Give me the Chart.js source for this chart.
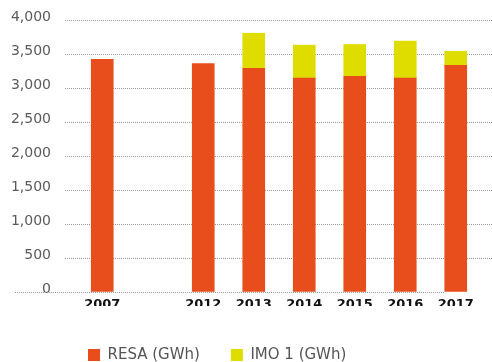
<!DOCTYPE html>
<html>
<head>
<meta charset="utf-8">
<script src="https://cdn.jsdelivr.net/npm/chart.js@4/dist/chart.umd.min.js"></script>
<style>
  html, body { margin: 0; padding: 0; background: #fff; }
  #wrap { width: 492px; height: 362px; position: relative; }
</style>
</head>
<body>
<div id="wrap"><canvas id="c" width="492" height="362"></canvas></div>
<script>
const categories = ['2007', '', '2012', '2013', '2014', '2015', '2016', '2017'];
const resaValues = [3420, null, 3360, 3290, 3145, 3170, 3145, 3335];
const imoValues  = [null, null, null, 515, 485, 470, 545, 205];
const seriesNames = ['RESA (GWh)', 'IMO 1 (GWh)'];
const yTicks = { min: 0, max: 4000, step: 500 };

const FONT = "'DejaVu Sans', sans-serif";

const dottedGrid = {
  id: 'dottedGrid',
  beforeDatasetsDraw(chart) {
    const ctx = chart.ctx;
    const y = chart.scales.y;
    const x = chart.scales.x;
    ctx.save();
    ctx.strokeStyle = '#999';
    ctx.lineWidth = 1;
    ctx.setLineDash([1, 1]);
    y.ticks.forEach(t => {
      const py = Math.round(y.getPixelForValue(t.value)) + 0.5;
      let x0 = 65, x1 = chart.width;
      if (t.value === 0) {
        x0 = 15;
        x1 = x.getPixelForValue(categories.length - 1) - 11;
      }
      ctx.beginPath();
      ctx.moveTo(x0, py);
      ctx.lineTo(x1, py);
      ctx.stroke();
    });
    ctx.restore();
  },
  beforeDraw(chart) {
    const lg = chart.legend;
    if (lg) {
      const w = lg.right - lg.left;
      lg.left = 57;
      lg.right = 57 + w;
      const h = lg.bottom - lg.top;
      lg.top = 316.5;
      lg.bottom = lg.top + h;
    }
  }
};

const chart = new Chart(document.getElementById('c'), {
  type: 'bar',
  data: {
    labels: categories,
    datasets: [
      { label: seriesNames[0], data: resaValues, backgroundColor: '#E84E1C', borderWidth: 0, barThickness: 22 },
      { label: seriesNames[1], data: imoValues, backgroundColor: '#DFDC00', borderWidth: 0, barThickness: 22 }
    ]
  },
  options: {
    responsive: false,
    animation: false,
    layout: { padding: { left: 0, right: 11, top: 20, bottom: 0 } },
    plugins: {
      tooltip: { enabled: false },
      legend: {
        position: 'bottom',
        align: 'start',
        labels: {
          boxWidth: 12,
          boxHeight: 12,
          padding: 31,
          color: '#555',
          font: { family: FONT, size: 15 }
        }
      }
    },
    scales: {
      x: {
        stacked: true,
        grid: { display: false },
        border: { display: false },
        ticks: {
          autoSkip: false,
          maxRotation: 0,
          padding: -3,
          color: '#111',
          font: { family: FONT, size: 13, weight: 'bold' }
        },
        afterFit(scale) { scale.height = 14; }
      },
      y: {
        stacked: true,
        min: yTicks.min,
        max: yTicks.max,
        grid: { display: true, drawOnChartArea: false, drawTicks: true, tickLength: 26, color: 'rgba(0,0,0,0)' },
        border: { display: false },
        ticks: {
          stepSize: yTicks.step,
          padding: 0,
          labelOffset: -3,
          color: '#5a5a5a',
          font: { family: FONT, size: 14 }
        },
        afterFit(scale) { scale.width = 77; }
      }
    }
  },
  plugins: [dottedGrid]
});
</script>
</body>
</html>
